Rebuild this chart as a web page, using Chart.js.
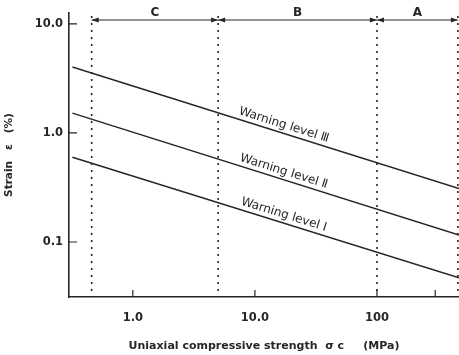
<!DOCTYPE html>
<html>
<head>
<meta charset="utf-8">
<script src="https://cdn.jsdelivr.net/npm/chart.js@4.4.0/dist/chart.umd.min.js"></script>
<style>
    html, body { margin: 0; padding: 0; background: #fff; }
</style>
</head>
<body>
<canvas id="strainChart" width="459" height="355"></canvas>
<script>
// warning lines, read at both ends of the plot (sigma c in MPa, strain in %)
const sigmaEnds = [0.32, 470];
const levelI = [0.60, 0.047];
const levelII = [1.52, 0.116];
const levelIII = [4.03, 0.31];
const levelNames = ['Warning level Ⅰ', 'Warning level Ⅱ', 'Warning level Ⅲ'];
const labelSigma = 16.5;

// rock classes along the top
const zoneBounds = [0.46, 5, 100, 460];
const zoneNames = ['C', 'B', 'A'];

// ticks
const xTicks = [1, 10, 100];
const xTickLabels = ['1.0', '10.0', '100'];
const xMinorTicks = [300];
const yTicks = [0.1, 1, 10];
const yTickLabels = ['0.1', '1.0', '10.0'];

const ink = '#262626';
const font = 'DejaVu Sans';

function lineData(vals) {
    return sigmaEnds.map((x, i) => ({ x: x, y: vals[i] }));
}

// inward ticks, dotted zone borders, arrow bar and line labels
const overlay = {
    id: 'overlay',
    afterDraw(chart) {
        const ctx = chart.ctx;
        const xs = chart.scales.x, ys = chart.scales.y;
        const area = chart.chartArea;
        ctx.save();
        ctx.strokeStyle = ink;
        ctx.fillStyle = ink;

        ctx.lineWidth = 1.2;
        ctx.beginPath();
        xTicks.concat(xMinorTicks).forEach(v => {
            const px = xs.getPixelForValue(v);
            ctx.moveTo(px, area.bottom);
            ctx.lineTo(px, area.bottom - 7);
        });
        yTicks.forEach(v => {
            const py = ys.getPixelForValue(v);
            ctx.moveTo(area.left, py);
            ctx.lineTo(area.left + 8, py);
        });
        ctx.stroke();

        // dotted borders
        const barY = area.top + 7;
        ctx.setLineDash([2, 5]);
        ctx.lineWidth = 1.6;
        ctx.beginPath();
        zoneBounds.forEach(v => {
            const px = xs.getPixelForValue(v);
            ctx.moveTo(px, barY - 4);
            ctx.lineTo(px, area.bottom);
        });
        ctx.stroke();
        ctx.setLineDash([]);

        // arrow bar
        ctx.lineWidth = 1.2;
        const x0 = xs.getPixelForValue(zoneBounds[0]);
        const x3 = xs.getPixelForValue(zoneBounds[zoneBounds.length - 1]);
        ctx.beginPath();
        ctx.moveTo(x0, barY);
        ctx.lineTo(x3, barY);
        ctx.stroke();

        function arrow(x, dir) {
            ctx.beginPath();
            ctx.moveTo(x, barY);
            ctx.lineTo(x - dir * 7, barY - 2.5);
            ctx.lineTo(x - dir * 7, barY + 2.5);
            ctx.closePath();
            ctx.fill();
        }

        ctx.font = 'bold 12px ' + font;
        ctx.textAlign = 'center';
        ctx.textBaseline = 'middle';
        zoneNames.forEach((name, i) => {
            const a = zoneBounds[i], b = zoneBounds[i + 1];
            arrow(xs.getPixelForValue(a), -1);
            arrow(xs.getPixelForValue(b), 1);
            ctx.fillText(name, xs.getPixelForValue(Math.sqrt(a * b)), barY - 7);
        });

        // labels along the warning lines
        const levels = [levelI, levelII, levelIII];
        ctx.font = '12px ' + font;
        ctx.textBaseline = 'bottom';
        levels.forEach((vals, i) => {
            const lx0 = Math.log10(sigmaEnds[0]), lx1 = Math.log10(sigmaEnds[1]);
            const ly0 = Math.log10(vals[0]), ly1 = Math.log10(vals[1]);
            const t = (Math.log10(labelSigma) - lx0) / (lx1 - lx0);
            const yv = Math.pow(10, ly0 + t * (ly1 - ly0));
            const px = xs.getPixelForValue(labelSigma);
            const py = ys.getPixelForValue(yv);
            const ang = Math.atan2(
                ys.getPixelForValue(vals[1]) - ys.getPixelForValue(vals[0]),
                xs.getPixelForValue(sigmaEnds[1]) - xs.getPixelForValue(sigmaEnds[0]));
            ctx.save();
            ctx.translate(px, py);
            ctx.rotate(ang);
            ctx.fillText(levelNames[i], 0, -2);
            ctx.restore();
        });

        ctx.restore();
    }
};

const lineStyle = { borderColor: ink, borderWidth: 1.5, pointRadius: 0, showLine: true, fill: false };

new Chart(document.getElementById('strainChart'), {
    type: 'scatter',
    data: {
        datasets: [
            Object.assign({ label: levelNames[0], data: lineData(levelI) }, lineStyle),
            Object.assign({ label: levelNames[1], data: lineData(levelII) }, lineStyle),
            Object.assign({ label: levelNames[2], data: lineData(levelIII) }, lineStyle)
        ]
    },
    options: {
        responsive: false,
        animation: false,
        devicePixelRatio: 1,
        layout: { padding: { top: 13, right: 0, left: 0, bottom: 0 } },
        plugins: {
            legend: { display: false },
            tooltip: { enabled: false }
        },
        scales: {
            x: {
                type: 'logarithmic',
                min: 0.32,
                max: 470,
                afterBuildTicks: s => { s.ticks = xTicks.map(v => ({ value: v })); },
                afterFit: s => { s.height = 58; },
                grid: { display: false, drawTicks: false },
                border: { display: true, color: ink, width: 1.6 },
                ticks: {
                    padding: 14,
                    color: ink,
                    font: { family: font, size: 11.5, weight: 'bold' },
                    maxRotation: 0,
                    callback: (v, i) => xTickLabels[i]
                },
                title: {
                    display: true,
                    text: 'Uniaxial compressive strength  σ c     (MPa)',
                    color: ink,
                    font: { family: font, size: 11, weight: 'bold' },
                    padding: { top: 0, bottom: 2 }
                }
            },
            y: {
                type: 'logarithmic',
                min: 0.0313,
                max: 12.6,
                afterBuildTicks: s => { s.ticks = yTicks.map(v => ({ value: v })); },
                afterFit: s => { s.width = 69; },
                grid: { display: false, drawTicks: false },
                border: { display: true, color: ink, width: 1.6 },
                ticks: {
                    padding: 6,
                    color: ink,
                    font: { family: font, size: 11.5, weight: 'bold' },
                    callback: (v, i) => yTickLabels[i]
                },
                title: {
                    display: true,
                    text: 'Strain   ε   (%)',
                    color: ink,
                    font: { family: font, size: 10.5, weight: 'bold' },
                    padding: { top: 3, bottom: 0 }
                }
            }
        }
    },
    plugins: [overlay]
});
</script>
</body>
</html>
